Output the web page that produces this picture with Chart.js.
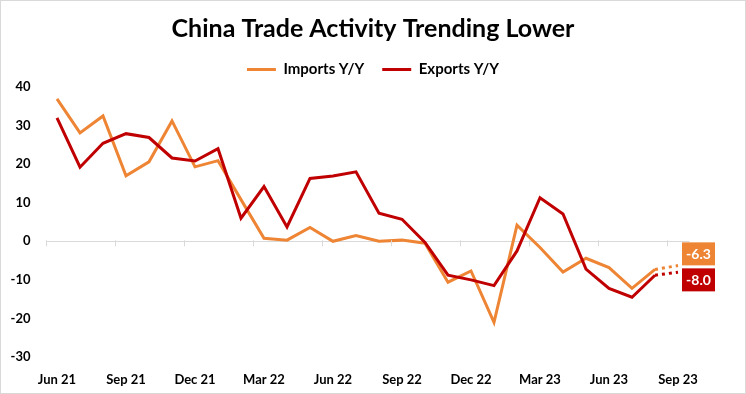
<!DOCTYPE html>
<html>
<head>
<meta charset="utf-8">
<script src="https://cdn.jsdelivr.net/npm/chart.js@4.4.0/dist/chart.umd.min.js"></script>
<style>
  body { margin: 0; background: #fff; }
  #wrap { width: 744px; height: 392px; border: 1px solid #d9d9d9; position: relative; }
</style>
</head>
<body>
<div id="wrap"><canvas id="myChart" width="744" height="392"></canvas></div>
<script>
// monthly categories Jun 21 .. Sep 23
let months = ['Jun 21','Jul 21','Aug 21','Sep 21','Oct 21','Nov 21','Dec 21',
  'Jan 22','Feb 22','Mar 22','Apr 22','May 22','Jun 22','Jul 22','Aug 22','Sep 22','Oct 22','Nov 22','Dec 22',
  'Jan 23','Feb 23','Mar 23','Apr 23','May 23','Jun 23','Jul 23','Aug 23','Sep 23'];
let imports = [36.9, 28.1, 32.5, 17.0, 20.6, 31.2, 19.3, 20.9, 10.8, 0.8, 0.3, 3.6, 0.0, 1.5, 0.0, 0.3,
  -0.5, -10.6, -7.7, -21.0, 4.2, -1.6, -8.0, -4.4, -6.8, -12.2, -7.3, -6.3];
let exports = [32.0, 19.2, 25.4, 27.9, 26.9, 21.6, 20.8, 24.0, 6.0, 14.2, 3.7, 16.3, 16.9, 18.0, 7.3, 5.7,
  -0.3, -8.8, -10.0, -11.5, -2.5, 11.3, 7.1, -7.2, -12.2, -14.5, -8.8, -8.0];
let yTicks = [-30, -20, -10, 0, 10, 20, 30, 40];

let orange = '#EE8535';
let darkRed = '#C00000';
let lastIdx = months.length - 1;
let fontFam = 'Lato, "Noto Sans", sans-serif';

// dotted last segment (latest month estimate)
let dotted = {borderDash: ctx => ctx.p1DataIndex === lastIdx ? [3, 4] : undefined};

// zero line tick marks + value boxes at the end
let extras = {
  id: 'extras',
  afterDatasetsDraw(chart) {
    let c = chart.ctx, x = chart.scales.x, y = chart.scales.y;
    let y0 = y.getPixelForValue(0);
    let half = (x.getPixelForValue(1) - x.getPixelForValue(0)) / 2;
    c.save();
    c.strokeStyle = '#d9d9d9';
    c.lineWidth = 1;
    for (let i = 0; i < months.length; i += 3) {
      let px = Math.round(x.getPixelForValue(i) - half) + 0.5;
      c.beginPath(); c.moveTo(px, y0 - 1); c.lineTo(px, y0 + 5); c.stroke();
    }
    let pxEnd = x.getPixelForValue(lastIdx);
    let yi = y.getPixelForValue(imports[lastIdx]);
    let ye = y.getPixelForValue(exports[lastIdx]);
    let mid = (yi + ye) / 2 - 2;
    let bw = 33, bh = 23;
    let boxes = [
      {v: imports[lastIdx], col: orange, top: mid - 1.5 - bh},
      {v: exports[lastIdx], col: darkRed, top: mid + 1.5}
    ];
    c.font = 'bold 14px ' + fontFam;
    c.textAlign = 'center';
    c.textBaseline = 'middle';
    boxes.forEach(b => {
      c.fillStyle = b.col;
      c.fillRect(pxEnd + 4, b.top, bw, bh);
      c.fillStyle = '#fff';
      c.fillText(b.v.toFixed(1), pxEnd + 4 + bw / 2, b.top + bh / 2 + 1);
    });
    c.restore();
  }
};

let ctx = document.getElementById('myChart').getContext('2d');
let myChart = new Chart(ctx, {
  type: 'line',
  data: {
    labels: months,
    datasets: [
      {label: 'Imports Y/Y', data: imports, borderColor: orange, backgroundColor: orange,
        borderWidth: 3, pointRadius: 0, tension: 0, order: 1, segment: dotted},
      {label: 'Exports Y/Y', data: exports, borderColor: darkRed, backgroundColor: darkRed,
        borderWidth: 3, pointRadius: 0, tension: 0, order: 0, segment: dotted}
    ]
  },
  plugins: [extras],
  options: {
    responsive: false,
    animation: false,
    layout: {padding: {left: 0, right: 0, bottom: 5, top: 0}},
    plugins: {
      title: {display: true, text: 'China Trade Activity Trending Lower', color: '#000',
        font: {family: fontFam, size: 25, weight: 'bold'}, padding: {top: 13, bottom: 0}},
      legend: {
        labels: {
          color: '#000', font: {family: fontFam, size: 15, weight: 'bold'},
          boxWidth: 29, boxHeight: 3, padding: 18,
          sort: (a, b) => a.datasetIndex - b.datasetIndex,
          generateLabels(chart) {
            return Chart.defaults.plugins.legend.labels.generateLabels(chart).map(l => {
              l.lineWidth = 0; l.lineDash = []; return l;
            });
          }
        }
      },
      tooltip: {enabled: false}
    },
    scales: {
      x: {
        offset: true,
        afterFit: s => { s.height = 31; },
        grid: {display: false, drawTicks: false},
        border: {display: false},
        ticks: {autoSkip: false, maxRotation: 0, padding: 15, color: '#000',
          font: {family: fontFam, size: 13, weight: 'bold'},
          callback: (v, i) => i % 3 === 0 ? months[i] : ''}
      },
      y: {
        min: yTicks[0], max: yTicks[yTicks.length - 1],
        afterBuildTicks: s => { s.ticks = yTicks.map(v => ({value: v})); },
        afterFit: s => { s.width = 44.5; },
        grid: {drawTicks: false, color: c => c.tick && c.tick.value === 0 ? '#d9d9d9' : 'rgba(0,0,0,0)'},
        border: {display: false},
        ticks: {padding: 15, color: '#000', font: {family: fontFam, size: 13, weight: 'bold'}}
      },
      // empty right-hand strip that leaves room for the value boxes
      yRight: {
        position: 'right',
        afterFit: s => { s.width = 55.5; },
        grid: {display: false, drawTicks: false},
        border: {display: false},
        ticks: {display: false}
      }
    }
  }
});
</script>
</body>
</html>
